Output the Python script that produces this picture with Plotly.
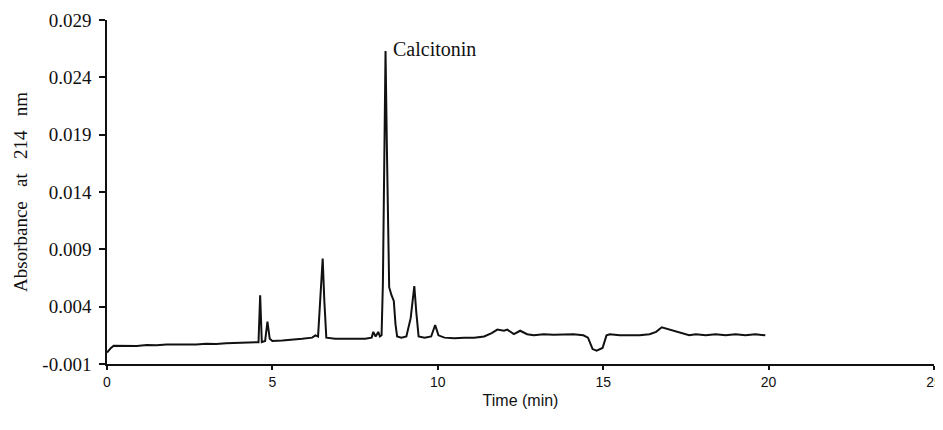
import plotly.graph_objects as go

# Chromatogram trace (time in min, absorbance at 214 nm)
time_min = [
    0.00, 0.05, 0.12, 0.20, 0.35, 0.60, 0.90, 1.20, 1.50, 1.80, 2.10, 2.40, 2.70,
    3.00, 3.30, 3.60, 3.90, 4.20, 4.45, 4.58, 4.63, 4.68, 4.78, 4.85, 4.92, 5.00,
    5.30, 5.60, 5.90, 6.20, 6.30, 6.38, 6.46, 6.52, 6.57, 6.63, 6.90, 7.20, 7.50,
    7.80, 8.00, 8.05, 8.12, 8.20, 8.25, 8.30, 8.34, 8.38, 8.42, 8.46, 8.50, 8.53,
    8.60, 8.67, 8.72, 8.77, 8.90, 9.05, 9.18, 9.29, 9.35, 9.42, 9.60, 9.80, 9.92,
    10.02, 10.20, 10.50, 10.80, 11.10, 11.40, 11.63, 11.80, 12.00, 12.10, 12.30,
    12.49, 12.70, 12.90, 13.20, 13.50, 13.80, 14.10, 14.40, 14.54, 14.68, 14.80,
    14.98, 15.10, 15.20, 15.50, 15.80, 16.10, 16.40, 16.60, 16.77, 16.90, 17.10,
    17.40, 17.60, 17.80, 18.10, 18.40, 18.70, 19.00, 19.30, 19.60, 19.90,
]
absorbance = [
    0.0000, 0.0002, 0.0004, 0.0006, 0.0006, 0.00062, 0.00058, 0.00065, 0.00063,
    0.0007, 0.00068, 0.00072, 0.0007, 0.00076, 0.00074, 0.0008, 0.00082, 0.00088,
    0.0009, 0.0009, 0.0050, 0.0009, 0.0010, 0.0027, 0.0012, 0.0010, 0.00105,
    0.0011, 0.0012, 0.0013, 0.0015, 0.0014, 0.0050, 0.0082, 0.0045, 0.0013,
    0.0012, 0.00118, 0.0012, 0.0012, 0.0013, 0.0018, 0.0014, 0.0018, 0.0014,
    0.0015, 0.0060, 0.0200, 0.0263, 0.0180, 0.0080, 0.0057, 0.0050, 0.0045,
    0.0025, 0.0014, 0.0013, 0.0014, 0.0030, 0.0058, 0.0035, 0.0014, 0.0013,
    0.0014, 0.0024, 0.0015, 0.0013, 0.00125, 0.0013, 0.00128, 0.0014, 0.0017,
    0.0020, 0.0019, 0.0020, 0.0016, 0.0019, 0.0016, 0.0015, 0.0016, 0.00155,
    0.0016, 0.0016, 0.0015, 0.0013, 0.0003, 0.00016, 0.0004, 0.0015, 0.0016,
    0.0015, 0.0015, 0.0015, 0.0016, 0.0018, 0.0022, 0.0021, 0.0019, 0.0017,
    0.0015, 0.0016, 0.0015, 0.0016, 0.0015, 0.0016, 0.0015, 0.0016, 0.0015,
]

y_tick_vals = [-0.001, 0.004, 0.009, 0.014, 0.019, 0.024, 0.029]
y_tick_text = ["-0.001", "0.004", "0.009", "0.014", "0.019", "0.024", "0.029"]
x_tick_vals = [0, 5, 10, 15, 20, 25]
x_tick_text = ["0", "5", "10", "15", "20", "25"]

peak_label = "Calcitonin"
peak_time = 8.42
peak_abs = 0.0263

SERIF = "Liberation Serif, Times New Roman, serif"
NARROW = "Liberation Sans Narrow, Arial Narrow, Liberation Sans, sans-serif"
SANS = "Liberation Sans, Arial, sans-serif"
INK = "#111111"

fig = go.Figure()
fig.add_trace(go.Scatter(
    x=time_min, y=absorbance, mode="lines",
    line=dict(color=INK, width=2),
    showlegend=False, hoverinfo="skip",
))

fig.add_annotation(
    x=peak_time, y=peak_abs, text=peak_label, showarrow=False,
    xanchor="left", yanchor="middle", xshift=5, yshift=2,
    font=dict(family=SERIF, size=20, color=INK),
)

# the page body adds an 8px offset, so the figure is sized to fit the window
fig.update_layout(
    width=935, height=422,
    margin=dict(l=99, r=9, t=12, b=66),
    paper_bgcolor="white", plot_bgcolor="white",
    xaxis=dict(
        range=[0, 25], tickvals=x_tick_vals, ticktext=x_tick_text,
        automargin=False,
        showgrid=False, zeroline=False,
        showline=True, linecolor=INK, linewidth=1.5,
        ticks="outside", ticklen=4, tickwidth=1.5, tickcolor=INK,
        tickfont=dict(family=NARROW, size=14, color=INK),
        title=dict(text="Time (min)", standoff=6,
                   font=dict(family=SANS, size=16, color=INK)),
    ),
    yaxis=dict(
        range=[-0.001, 0.029], tickvals=y_tick_vals, ticktext=y_tick_text,
        automargin=False,
        showgrid=False, zeroline=False,
        showline=True, linecolor=INK, linewidth=1.5,
        ticks="outside", ticklen=6, tickwidth=1.5, tickcolor=INK,
        ticklabelstandoff=4,
        tickfont=dict(family=SERIF, size=19, color=INK),
        title=dict(text="Absorbance\u00a0\u00a0\u00a0at\u00a0\u00a0\u00a0214\u00a0\u00a0\u00a0nm", standoff=10,
                   font=dict(family=SERIF, size=19, color=INK)),
    ),
)

fig.write_html("out.html")
